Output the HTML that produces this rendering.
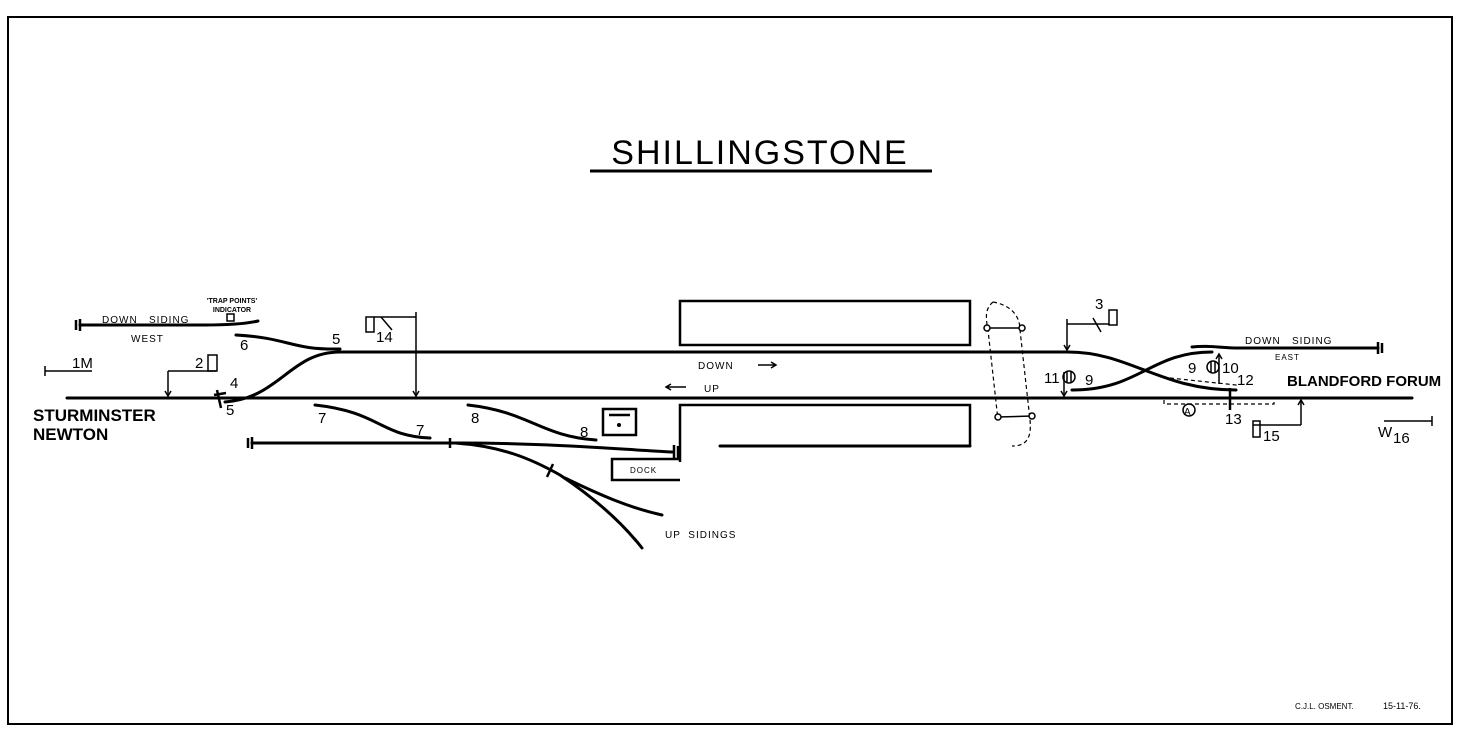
<!DOCTYPE html>
<html><head><meta charset="utf-8"><style>
html,body{margin:0;padding:0;background:#fff;}
svg{display:block;}
text{font-family:"Liberation Sans",sans-serif;fill:#000;}
</style></head><body>
<svg width="1474" height="739" viewBox="0 0 1474 739" xmlns="http://www.w3.org/2000/svg">
<rect x="8" y="17" width="1444" height="707" fill="none" stroke="#000" stroke-width="2"/>
<text x="760" y="164" font-size="34" text-anchor="middle" letter-spacing="2">SHILLINGSTONE</text>
<line x1="590" y1="171" x2="932" y2="171" stroke="#000" stroke-width="3"/>
<g stroke="#000" stroke-width="3" fill="none" stroke-linecap="round">
<line x1="67" y1="398" x2="1412" y2="398"/>
<line x1="340" y1="352" x2="1068" y2="352"/>
<path d="M1068 352 C1130 352 1160 390 1236 390"/>
<path d="M1072 390 C1140 390 1150 352 1212 352"/>
<path d="M1192 347 C1210 345 1220 348 1240 348 L1378 348"/>
<path d="M80 325 L205 325 C230 325 245 324 258 321"/>
<path d="M236 335 C290 338 290 350 340 349"/>
<path d="M225 402 C280 398 290 352 340 352"/>
<path d="M315 405 C380 412 380 436 430 438"/>
<path d="M468 405 C530 412 540 436 596 440"/>
<path d="M252 443 L460 443 C540 443 600 448 672 452"/>
<path d="M455 443 C500 446 530 458 560 475 C590 495 620 520 642 548"/>
<path d="M565 478 C600 495 630 508 662 515"/>
<line x1="720" y1="446" x2="970" y2="446"/>
</g>
<g stroke="#000" stroke-width="2.5" fill="none">
<rect x="680" y="301" width="290" height="44"/>
<path d="M680 462 L680 405 L970 405 L970 446"/>
<path d="M680 459 L612 459 L612 480 L680 480"/>
<rect x="603" y="409" width="33" height="26"/>
<line x1="609" y1="415" x2="630" y2="415"/>
<line x1="80" y1="319" x2="80" y2="331"/><line x1="76" y1="320" x2="76" y2="330"/>
<line x1="252" y1="437" x2="252" y2="449"/><line x1="248" y1="438" x2="248" y2="448"/>
<line x1="674" y1="445" x2="674" y2="460"/><line x1="678" y1="446" x2="678" y2="459"/>
<line x1="1378" y1="342" x2="1378" y2="354"/><line x1="1382" y1="343" x2="1382" y2="353"/>
<line x1="217" y1="390" x2="221" y2="408"/><line x1="214" y1="395" x2="226" y2="393"/>
<line x1="1230" y1="388" x2="1230" y2="410"/>
<line x1="450" y1="438" x2="450" y2="448"/>
<line x1="553" y1="464" x2="547" y2="477"/>
</g>
<circle cx="619" cy="425" r="2" fill="#000"/>
<g stroke="#000" stroke-width="1.5" fill="none">
<line x1="45" y1="371" x2="92" y2="371"/><line x1="45" y1="366" x2="45" y2="376"/>
<line x1="168" y1="371" x2="216" y2="371"/><line x1="168" y1="371" x2="168" y2="396"/><path d="M165 391 L168 396 L171 391"/>
<rect x="208" y="355" width="9" height="16"/>
<rect x="366" y="317" width="8" height="15"/><line x1="374" y1="317" x2="416" y2="317"/><line x1="416" y1="312" x2="416" y2="396"/><path d="M413 391 L416 396 L419 391"/>
<line x1="392" y1="330" x2="381" y2="317"/>
<rect x="1109" y="310" width="8" height="15"/><line x1="1067" y1="324" x2="1109" y2="324"/><line x1="1067" y1="319" x2="1067" y2="350"/><path d="M1064 345 L1067 350 L1070 345"/>
<line x1="1093" y1="318" x2="1101" y2="332"/>
<line x1="1064" y1="372" x2="1064" y2="396"/><path d="M1061 391 L1064 396 L1067 391"/>
<line x1="1219" y1="354" x2="1219" y2="384"/><path d="M1216 359 L1219 354 L1222 359"/>
<line x1="1301" y1="400" x2="1301" y2="425"/><path d="M1298 405 L1301 400 L1304 405"/><line x1="1253" y1="425" x2="1301" y2="425"/><rect x="1253" y="421" width="7" height="16"/>
<line x1="1384" y1="421" x2="1432" y2="421"/><line x1="1432" y1="416" x2="1432" y2="426"/>
<circle cx="1069" cy="377" r="6"/><line x1="1067" y1="372" x2="1067" y2="382"/><line x1="1071" y1="372" x2="1071" y2="382"/>
<circle cx="1213" cy="367" r="6"/><line x1="1211" y1="362" x2="1211" y2="372"/><line x1="1215" y1="362" x2="1215" y2="372"/>
<circle cx="1189" cy="410" r="6"/>
<rect x="227" y="314" width="7" height="7"/>
<path d="M758 365 L776 365 M771 362 L776 365 L771 368"/>
<path d="M666 387 L686 387 M671 384 L666 387 L671 390"/>
</g>
<g stroke="#000" stroke-width="1.2" fill="none" stroke-dasharray="4 3">
<path d="M993 302 C1010 305 1020 315 1020 330 L1030 420 C1032 440 1025 446 1012 446"/>
<path d="M993 302 C986 308 985 315 988 330 L998 420"/>
<path d="M1170 378 L1236 385 L1236 390"/>
<path d="M1164 400 L1164 404 L1274 404 L1274 398"/>
</g>
<g stroke="#000" stroke-width="1.5" fill="none">
<line x1="987" y1="328" x2="1022" y2="328"/><circle cx="987" cy="328" r="3" fill="#fff"/><circle cx="1022" cy="328" r="3" fill="#fff"/>
<line x1="998" y1="417" x2="1032" y2="416"/><circle cx="998" cy="417" r="3" fill="#fff"/><circle cx="1032" cy="416" r="3" fill="#fff"/>
</g>
<g font-size="10">
<text x="102" y="323" letter-spacing="1">DOWN &#160; SIDING</text>
<text x="131" y="342" letter-spacing="1">WEST</text>
<text x="1245" y="344" letter-spacing="1">DOWN &#160; SIDING</text>
<text x="1275" y="360" font-size="8" letter-spacing="1">EAST</text>
<text x="698" y="369" letter-spacing="1">DOWN</text>
<text x="704" y="392" letter-spacing="1">UP</text>
<text x="630" y="473" font-size="8" letter-spacing="1">DOCK</text>
<text x="665" y="538" letter-spacing="1">UP &#160;SIDINGS</text>
<text x="1295" y="709" font-size="8">C.J.L. OSMENT.</text>
<text x="1383" y="709" font-size="9">15-11-76.</text>
</g>
<text x="232" y="303" font-size="7" text-anchor="middle" font-weight="bold">'TRAP POINTS'</text>
<text x="232" y="312" font-size="7" text-anchor="middle" font-weight="bold">INDICATOR</text>
<g font-size="15">
<text x="72" y="368">1M</text>
<text x="195" y="368">2</text>
<text x="376" y="342">14</text>
<text x="240" y="350">6</text>
<text x="332" y="344">5</text>
<text x="230" y="388">4</text>
<text x="226" y="415">5</text>
<text x="318" y="423">7</text>
<text x="416" y="435">7</text>
<text x="471" y="423">8</text>
<text x="580" y="437">8</text>
<text x="1095" y="309">3</text>
<text x="1044" y="383">11</text>
<text x="1085" y="385">9</text>
<text x="1188" y="373">9</text>
<text x="1222" y="373">10</text>
<text x="1237" y="385">12</text>
<text x="1225" y="424">13</text>
<text x="1263" y="441">15</text>
<text x="1378" y="437">W</text>
<text x="1393" y="443">16</text>
<text x="1184" y="415" font-size="10">A</text>
</g>
<text x="33" y="421" font-size="17" font-weight="bold">STURMINSTER</text>
<text x="33" y="440" font-size="17" font-weight="bold">NEWTON</text>
<text x="1287" y="386" font-size="15" font-weight="bold">BLANDFORD FORUM</text>
</svg>
</body></html>
